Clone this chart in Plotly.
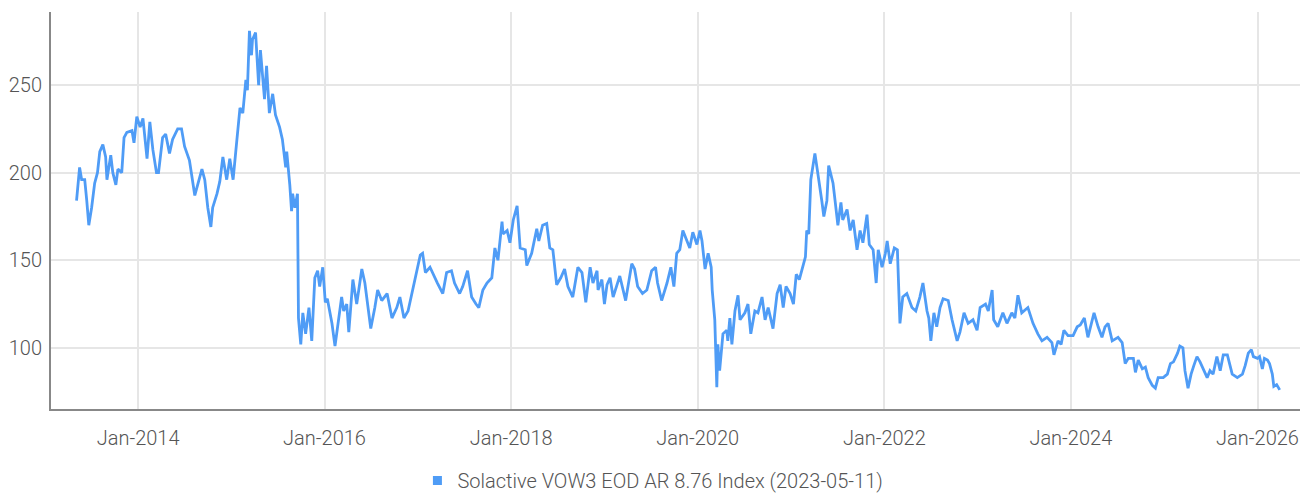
import plotly.graph_objects as go

dates = [
"2013-05-05","2013-05-17","2013-05-25","2013-06-06","2013-06-14","2013-06-22","2013-07-03","2013-07-15","2013-07-26","2013-08-04",
"2013-08-16","2013-08-27","2013-09-01","2013-09-16","2013-09-24","2013-10-06","2013-10-14","2013-10-29","2013-11-07","2013-11-18",
"2013-12-08","2013-12-16","2013-12-27",
"2014-01-09","2014-01-20","2014-02-05","2014-02-16","2014-02-28","2014-03-14","2014-03-22","2014-04-07","2014-04-19","2014-05-04",
"2014-05-16","2014-06-05","2014-06-20","2014-07-02","2014-07-21","2014-08-11","2014-08-22","2014-09-08","2014-09-19","2014-10-01",
"2014-10-13","2014-10-20","2014-11-06","2014-11-17","2014-11-29","2014-12-14","2014-12-26",
"2015-01-08","2015-01-23","2015-02-04","2015-02-15","2015-02-27","2015-03-05","2015-03-13","2015-03-21","2015-03-25","2015-04-06",
"2015-04-18","2015-04-25","2015-05-11","2015-05-19","2015-05-30","2015-06-12","2015-06-23","2015-07-09","2015-07-20","2015-08-02",
"2015-08-06","2015-08-18","2015-08-25","2015-08-29","2015-09-07","2015-09-17","2015-09-21","2015-09-30","2015-10-08","2015-10-19",
"2015-11-01","2015-11-12","2015-11-24","2015-12-05","2015-12-13","2015-12-25",
"2016-01-04","2016-01-12","2016-01-22","2016-01-30","2016-02-11","2016-02-23","2016-03-08","2016-03-16","2016-03-28","2016-04-05",
"2016-04-21","2016-05-06","2016-05-18","2016-05-26","2016-06-07","2016-06-30","2016-07-16","2016-07-27","2016-08-12","2016-09-02",
"2016-09-21","2016-10-10","2016-10-22","2016-11-07","2016-11-23","2016-12-08","2016-12-24",
"2017-01-10","2017-01-19","2017-01-30","2017-02-17","2017-03-07","2017-03-18","2017-04-08","2017-04-23","2017-05-12","2017-05-24",
"2017-06-13","2017-06-25","2017-07-14","2017-07-30","2017-08-16","2017-08-27","2017-09-12","2017-09-28","2017-10-17","2017-10-29",
"2017-11-10","2017-11-26","2017-11-30","2017-12-16","2017-12-27",
"2018-01-09","2018-01-24","2018-02-05","2018-02-25","2018-03-03","2018-03-22","2018-04-11","2018-04-19","2018-05-04","2018-05-20",
"2018-06-01","2018-06-13","2018-06-28","2018-07-14","2018-07-29","2018-08-11","2018-08-30","2018-09-19","2018-10-05","2018-10-20",
"2018-11-06","2018-11-17","2018-12-03","2018-12-07","2018-12-22",
"2019-01-01","2019-01-11","2019-01-23","2019-02-04","2019-03-02","2019-03-13","2019-03-25","2019-04-18","2019-04-29","2019-05-11",
"2019-05-30","2019-06-16","2019-07-05","2019-07-20","2019-07-28","2019-08-13","2019-09-03","2019-09-18","2019-09-30","2019-10-11",
"2019-10-23","2019-11-04","2019-11-20","2019-12-01","2019-12-13","2019-12-29",
"2020-01-10","2020-01-18","2020-01-30","2020-02-11","2020-02-23","2020-02-27","2020-03-08","2020-03-16","2020-03-20","2020-03-27",
"2020-04-09","2020-04-24","2020-04-28","2020-05-06","2020-05-14","2020-05-26","2020-06-07","2020-06-15","2020-07-04","2020-07-16",
"2020-07-27","2020-08-12","2020-08-24","2020-09-09","2020-09-21","2020-10-03","2020-10-22","2020-11-07","2020-11-19","2020-12-01",
"2020-12-12","2020-12-28",
"2021-01-10","2021-01-21","2021-02-02","2021-02-14","2021-02-26","2021-03-03","2021-03-11","2021-03-19","2021-03-26","2021-04-04",
"2021-04-12","2021-04-20","2021-05-01","2021-05-09","2021-05-21","2021-05-28","2021-06-14","2021-06-22","2021-07-03","2021-07-15",
"2021-07-22","2021-08-08","2021-08-20","2021-09-01","2021-09-16","2021-09-28","2021-10-09","2021-10-25","2021-11-03","2021-11-18",
"2021-11-30","2021-12-08","2021-12-23",
"2022-01-05","2022-01-12","2022-01-24","2022-02-09","2022-02-21","2022-03-03","2022-03-14","2022-03-30","2022-04-19","2022-05-04",
"2022-05-20","2022-06-01","2022-06-17","2022-06-24","2022-07-02","2022-07-14","2022-07-25","2022-08-07","2022-08-19","2022-09-08",
"2022-09-23","2022-10-13","2022-10-24","2022-11-09","2022-11-25","2022-12-14","2022-12-30",
"2023-01-11","2023-02-01","2023-02-12","2023-02-27","2023-03-05","2023-03-21","2023-04-10","2023-04-26","2023-05-15","2023-05-27",
"2023-06-08","2023-06-23","2023-07-17","2023-08-06","2023-08-25","2023-09-10","2023-09-30","2023-10-19","2023-10-27","2023-11-12",
"2023-11-24","2023-12-05","2023-12-21",
"2024-01-10","2024-01-26","2024-02-07","2024-02-23","2024-03-08","2024-04-01","2024-04-17","2024-05-02","2024-05-14","2024-05-26",
"2024-06-11","2024-07-04","2024-07-20","2024-08-01","2024-08-13","2024-09-02","2024-09-10","2024-09-21","2024-10-07","2024-10-19",
"2024-10-30","2024-11-15","2024-11-27","2024-12-08","2024-12-28",
"2025-01-13","2025-01-25","2025-02-06","2025-02-22","2025-03-03","2025-03-15","2025-03-23","2025-04-04","2025-04-16","2025-04-27",
"2025-05-09","2025-05-21","2025-06-02","2025-06-18","2025-06-29","2025-07-11","2025-07-26","2025-08-08","2025-08-20","2025-09-05",
"2025-09-24","2025-10-14","2025-11-03","2025-11-14","2025-11-26","2025-12-08","2025-12-16",
"2026-01-01","2026-01-09","2026-01-20","2026-01-28","2026-02-09","2026-02-17","2026-02-28","2026-03-06","2026-03-17","2026-03-29",
]

values = [
184,203,196,196,184,170,180,194,200,212,
216,209,196,210,200,193,202,200,220,223,
224,217,232,
226,231,208,229,213,200,200,220,222,211,
219,225,225,215,207,187,193,202,196,180,
169,180,188,195,209,196,208,
196,219,237,234,253,247,281,267,276,280,
250,270,242,261,234,245,233,226,219,203,
212,193,178,188,180,188,117,102,120,108,
123,104,140,144,135,146,
126,128,121,114,101,114,129,121,125,109,
139,125,137,145,137,111,123,133,127,131,
117,123,129,117,121,131,140,
153,154,143,146,140,137,131,143,144,137,
131,135,144,129,125,123,133,137,140,157,
150,172,165,167,160,
173,181,157,156,147,154,168,161,170,171,
157,156,136,140,145,135,129,146,143,126,
146,137,144,133,139,
125,136,140,129,141,135,127,148,145,135,
131,133,144,146,137,127,137,146,135,154,
156,167,161,157,166,159,
167,161,145,154,146,133,116,77.5,102,87,
108,110,104,117,102,121,130,116,120,125,
108,121,120,129,116,123,111,131,136,123,
135,131,
125,142,139,146,152,167,165,196,203,211,
203,196,184,175,184,204,194,184,170,183,
173,179,167,173,156,167,160,176,159,156,
137,156,146,
154,161,148,157,156,114,129,131,123,121,
129,137,121,117,104,120,112,123,128,127,
116,104,109,120,114,116,110,
123,125,121,133,116,112,120,114,120,117,
130,120,123,114,108,104,106,103,96,104,
102,110,107,
107,112,113,117,106,120,112,106,112,114,
104,106,103,91,94,94,86,93,88,89,
83,78.6,77,83,83,
85,91,92,97,101,100,87,77,85,90,
95,92,88,83,87,85,95,87,96,96,
85,83,85,90,97,99,95,
94,95,88,94,93,91,85,78,79,76,
]

series_name = "Solactive VOW3 EOD AR 8.76 Index (2023-05-11)"
line_color = "#4f9cf6"
font_family = "Roboto, sans-serif"
text_color = "#555555"
tick_font = dict(family=font_family, size=20, color=text_color, weight=300)

fig = go.Figure()
fig.add_trace(go.Scatter(x=dates, y=values, mode="lines",
                         line=dict(color=line_color, width=2.8),
                         showlegend=False, name=series_name))
fig.add_trace(go.Scatter(x=[None], y=[None], mode="markers",
                         marker=dict(symbol="square", size=9, color=line_color),
                         name=series_name, showlegend=True))

# page body adds an 8px offset, so the figure is sized to compensate
fig.update_layout(
    width=1300, height=487,
    margin=dict(l=43, r=3, t=4, b=86),
    plot_bgcolor="white", paper_bgcolor="white",
    font=tick_font,
    legend=dict(orientation="h", x=0.48, xanchor="center",
                yref="container", y=0.03, yanchor="middle",
                font=tick_font, itemwidth=30, tracegroupgap=0),
)
fig.update_xaxes(
    type="date", range=["2013-01-25", "2026-07-06"], automargin=False,
    tick0="2014-01-01", dtick="M24", tickformat="%b-%Y",
    showgrid=True, gridcolor="#e6e6e6", gridwidth=2,
    showline=True, linecolor="#888888", linewidth=2,
    ticks="", ticklabelstandoff=10,
    tickfont=tick_font,
)
fig.update_yaxes(
    range=[65.1, 291.7], tickvals=[100, 150, 200, 250], automargin=False,
    showgrid=True, gridcolor="#e6e6e6", gridwidth=2,
    showline=True, linecolor="#888888", linewidth=2,
    ticks="", zeroline=False, ticklabelstandoff=3,
    tickfont=tick_font,
)

fig.write_html("out.html")
